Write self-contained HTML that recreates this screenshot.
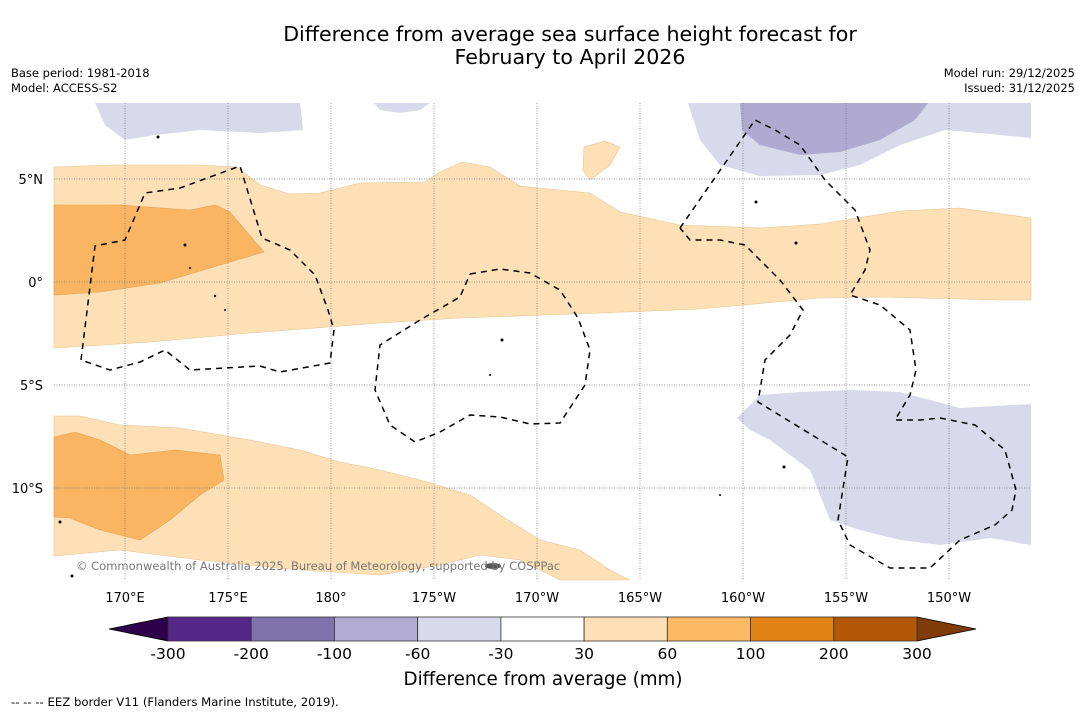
<!DOCTYPE html>
<html><head><meta charset="utf-8"><style>
body{margin:0;background:#fff;width:1085px;height:713px;overflow:hidden;font-family:"DejaVu Sans","Liberation Sans",sans-serif}
svg{position:absolute;left:0;top:0}
</style></head><body>
<svg width="1085" height="713">
<text x="570" y="41" font-size="20.6" text-anchor="middle">Difference from average sea surface height forecast for</text>
<text x="570" y="64" font-size="20.6" text-anchor="middle">February to April 2026</text>
<text x="11" y="77" font-size="11.5">Base period: 1981-2018</text>
<text x="11" y="92" font-size="11.5">Model: ACCESS-S2</text>
<text x="1075" y="77" font-size="11.5" text-anchor="end">Model run: 29/12/2025</text>
<text x="1075" y="92" font-size="11.5" text-anchor="end">Issued: 31/12/2025</text>
<g>
<polygon fill="#fde0b6" stroke="#e9c392" stroke-width="0.6" points="54,167 110,165 200,165 237,167 260,185 290,194 320,193 360,183 425,182 440,172 462,162 490,167 520,186 590,193 620,212 680,225 760,228 820,224 900,211 960,208 1031,218 1031,300 1000,300 880,297 820,298 700,309 600,313 460,318 380,323 250,333 150,342 54,348"/>
<polygon fill="#f9b561" stroke="#e7a04c" stroke-width="0.6" points="54,205 120,205 190,210 215,205 230,212 245,230 264,252 230,262 160,283 100,292 54,295"/>
<polygon fill="#fde0b6" stroke="#e9c392" stroke-width="0.6" points="584,147 605,141 620,147 610,165 590,180 583,170"/>
<polygon fill="#fde0b6" stroke="#e9c392" stroke-width="0.6" points="54,416 80,416 120,425 180,428 250,440 300,450 340,462 380,470 420,480 470,495 500,515 540,540 580,550 610,570 630,580 560,580 520,560 480,555 440,565 380,575 300,570 200,560 120,550 54,556"/>
<polygon fill="#f9b561" stroke="#e7a04c" stroke-width="0.6" points="54,437 75,432 100,440 130,455 175,450 220,455 224,480 200,495 170,520 140,540 100,530 70,518 54,517"/>
<polygon fill="#d8d9ea" points="95,103 300,103 303,130 260,133 200,130 155,135 125,140 105,125"/>
<polygon fill="#d8d9ea" points="374,103 430,103 420,110 400,113 380,110"/>
<polygon fill="#d8d9ea" points="688,103 1031,103 1031,138 980,133 945,130 900,145 860,165 820,175 760,176 720,165 700,140"/>
<polygon fill="#b0aad1" points="740,103 928,103 915,120 880,140 840,152 800,155 760,145 742,130"/>
<polygon fill="#d8d9ea" points="737,418 760,395 800,392 850,390 900,392 960,408 1031,404 1031,545 990,538 940,545 900,540 860,530 830,520 820,495 810,470 790,455 770,440 750,430"/>
<g stroke="#777" stroke-width="0.7" stroke-dasharray="1,1.5">
<line x1="125" y1="103" x2="125" y2="580"/><line x1="228" y1="103" x2="228" y2="580"/><line x1="331" y1="103" x2="331" y2="580"/><line x1="434" y1="103" x2="434" y2="580"/><line x1="537" y1="103" x2="537" y2="580"/><line x1="640" y1="103" x2="640" y2="580"/><line x1="743" y1="103" x2="743" y2="580"/><line x1="846" y1="103" x2="846" y2="580"/><line x1="949" y1="103" x2="949" y2="580"/>
<line x1="54" y1="179" x2="1031" y2="179"/><line x1="54" y1="282" x2="1031" y2="282"/><line x1="54" y1="385" x2="1031" y2="385"/><line x1="54" y1="488" x2="1031" y2="488"/>
</g>
<g fill="none" stroke="#000" stroke-width="1.5" stroke-dasharray="6,5">
<polyline points="81,360 95,246 125,240 145,193 180,188 240,166 262,238 290,250 315,275 328,310 334,330 330,363 280,372 260,366 190,370 165,350 140,362 110,370 81,360"/>
<polyline points="470,274 500,269 530,273 560,290 578,318 590,350 585,385 560,423 530,424 500,417 470,415 440,432 415,442 390,425 375,390 380,345 420,320 460,297 470,274"/>
<polyline points="680,228 755,120 775,130 800,145 825,180 855,210 870,250 865,270 850,295 880,305 910,330 916,370 910,395 895,420 920,420 940,418 975,425 1005,450 1016,490 1012,510 995,525 960,540 930,568 890,568 850,545 838,520 848,457 758,402 765,360 790,335 803,310 780,280 745,245 720,240 690,240 680,228"/>
</g>
<g fill="#000">
<circle cx="185" cy="245" r="1.5"/><circle cx="190" cy="268" r="1"/><circle cx="215" cy="296" r="1.2"/><circle cx="225" cy="310" r="1"/><circle cx="502" cy="340" r="1.5"/><circle cx="490" cy="375" r="1"/><circle cx="756" cy="202" r="1.5"/><circle cx="796" cy="243" r="1.5"/><circle cx="784" cy="467" r="1.5"/><circle cx="720" cy="495" r="1"/><circle cx="158" cy="137" r="1.5"/><circle cx="60" cy="522" r="1.5"/><ellipse cx="493" cy="566" rx="8" ry="3" fill="#555"/><circle cx="72" cy="576" r="1.5"/>
</g>
<text x="76" y="570" font-size="11.5" fill="#777">© Commonwealth of Australia 2025, Bureau of Meteorology, supported by COSPPac</text>
</g>
<g font-size="13">
<text x="43" y="184" text-anchor="end">5°N</text><text x="43" y="287" text-anchor="end">0°</text><text x="43" y="390" text-anchor="end">5°S</text><text x="43" y="493" text-anchor="end">10°S</text>
</g>
<g font-size="13" text-anchor="middle">
<text x="125" y="602">170°E</text><text x="228" y="602">175°E</text><text x="331" y="602">180°</text><text x="434" y="602">175°W</text><text x="537" y="602">170°W</text><text x="640" y="602">165°W</text><text x="743" y="602">160°W</text><text x="846" y="602">155°W</text><text x="949" y="602">150°W</text>
</g>
<g id="cbar"></g>
<text x="543" y="685" font-size="18.3" text-anchor="middle">Difference from average (mm)</text>
<text x="11" y="706" font-size="11.7">--  --  -- EEZ border V11 (Flanders Marine Institute, 2019).</text>
</svg>
<script>
const tickLabels=["-300","-200","-100","-60","-30","30","60","100","200","300"];
const binColors=["#542788","#8073ac","#b2abd2","#d8daeb","#ffffff","#fee0b6","#fdb863","#e08214","#b35806"];
const extColors=["#2d004b","#7f3b08"];
const ns="http://www.w3.org/2000/svg";
const g=document.getElementById("cbar");
const x0=168,x1=917,y0=617,y1=641;
const w=(x1-x0)/binColors.length;
function mk(t,a){const e=document.createElementNS(ns,t);for(const k in a)e.setAttribute(k,a[k]);g.appendChild(e);return e;}
const lt=mk("polygon",{points:`${x0},${y0} 109,${(y0+y1)/2} ${x0},${y1}`,fill:extColors[0],stroke:"#000","stroke-width":0.8});


const rt=mk("polygon",{points:`${x1},${y0} 976,${(y0+y1)/2} ${x1},${y1}`,fill:extColors[1],stroke:"#000","stroke-width":0.8});


binColors.forEach((c,i)=>{
const r=mk("rect",{x:x0+i*w,y:y0,width:w,height:y1-y0,fill:c,stroke:"#333","stroke-width":0.8});


});
tickLabels.forEach((t,i)=>{
const e=mk("text",{x:x0+i*w,y:659,"font-size":15.5,"text-anchor":"middle"});
e.textContent=t;


});
</script>
</body></html>
